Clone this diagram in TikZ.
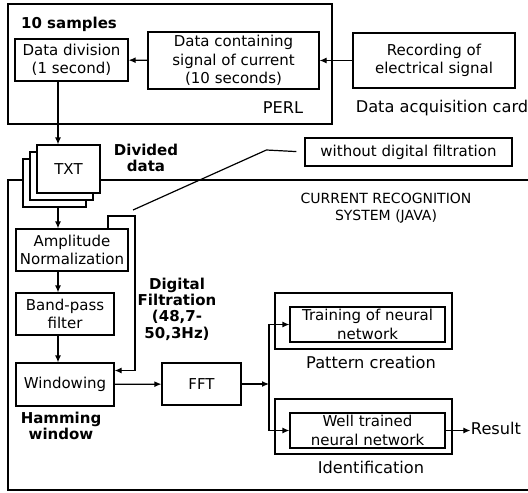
\documentclass[tikz,border=0pt]{standalone}
\usepackage{fontspec}
\setmainfont{DejaVu Sans}
\usetikzlibrary{arrows.meta}

\tikzset{
    box/.style={draw, fill=white, align=center, inner sep=0pt, font=\fontsize{7.5}{9.2}\selectfont},
    frame/.style={draw, inner sep=0pt},
    lbl/.style={align=center, inner sep=0pt, font=\fontsize{8.1}{9}\selectfont},
    blbl/.style={align=center, inner sep=0pt, font=\bfseries\fontsize{7.5}{8.2}\selectfont},
    arr/.style={-{Latex[length=3.5pt,width=3pt]}}
}

\begin{document}
\begin{tikzpicture}[x=0.5pt, y=-0.5pt, line width=0.6pt]
    \useasboundingbox (0,0) rectangle (528,492);
    \clip (0,0) rectangle (528,492);
    \fill[white] (0,0) rectangle (528,492);
    \coordinate (spine) at (58,0);
    % PERL part
    \node[frame, minimum width=162pt, minimum height=60pt] (perl) at (170,64) {};
    \node[blbl] (samples) at (69,24) {10 samples};
    \node[box, minimum width=56.5pt, minimum height=21pt] (div) at (71.5,60) {Data division\\(1 second)};
    \node[box, minimum width=85.5pt, minimum height=28.5pt] (cont) at (233.5,60.5) {Data containing\\signal of current\\(10 seconds)};
    \node[lbl] (perl-lbl) at (283,108) {PERL};
    % Data acquisition card
    \node[box, minimum width=81pt, minimum height=27.5pt] (rec) at (434,60.5) {Recording of\\electrical signal};
    \node[lbl] (card) at (442,108) {Data acquisition card};
    % Java part
    \node[frame, minimum width=262pt, minimum height=155pt] (java) at (270,335) {};
    \node[lbl, font=\fontsize{7}{8.5}\selectfont] (java-lbl) at (386,208) {CURRENT RECOGNITION\\SYSTEM (JAVA)};
    \foreach \i/\d in {3/14,2/7,1/0} {
        \node[box, minimum width=31.5pt, minimum height=24pt] (txt\i) at (68.5-\d,169+\d) {\ifnum\i=1 TXT\fi};
    }
    \node[blbl] (divided) at (146,158) {Divided\\data};
    \node[box, minimum width=103.5pt, minimum height=14pt] (wdf) at (408.5,152) {without digital filtration};
    \coordinate (byp) at (135,216);
    \coordinate (tip) at (133,210);
    \node[box, minimum width=56pt, minimum height=21pt] (amp) at (72,250) {Amplitude\\Normalization};
    \node[box, minimum width=49pt, minimum height=21pt] (band) at (65,314) {Band-pass\\filter};
    \node[box, minimum width=49pt, minimum height=21.5pt] (win) at (65,384.5) {Windowing};
    \node[blbl] (hamming) at (61,426) {Hamming\\window};
    \node[blbl] (digital) at (177,309) {Digital\\Filtration\\(48,7-\\50,3Hz)};
    \node[box, minimum width=39.5pt, minimum height=21pt] (fft) at (201.5,384) {FFT};
    \coordinate (br) at (269,384);
    % Neural network
    \node[frame, minimum width=88.5pt, minimum height=28pt] (pattern) at (363.5,321) {};
    \node[box, minimum width=77.5pt, minimum height=17.5pt] (train) at (367.5,324.5) {Training of neural\\network};
    \node[lbl] (pattern-lbl) at (371,362) {Pattern creation};
    \node[frame, minimum width=88.5pt, minimum height=27.5pt] (ident) at (363.5,426.5) {};
    \node[box, minimum width=77.5pt, minimum height=17.5pt] (well) at (367.5,430.5) {Well trained\\neural network};
    \node[lbl] (ident-lbl) at (371,467) {Identification};
    \node[lbl] (result) at (496,428) {Result};
    % Arrows
    \draw[arr] (rec) -- (cont);
    \draw[arr] (cont) -- (div);
    \draw[arr] (div.south -| spine) -- (txt1.north -| spine);
    \draw[arr] (txt3.south -| spine) -- (amp.north -| spine);
    \draw[arr] (amp.south -| spine) -- (band.north -| spine);
    \draw[arr] (band.south -| spine) -- (win.north -| spine);
    \draw[arr] ([xshift=18pt]amp.north) |- (byp) |- ([yshift=7pt]win.east);
    \draw[shorten <=4pt] (wdf.west) -- ++(-38,-2) -- (tip);
    \draw[arr] (win) -- (fft);
    \draw[arr] (fft) -- (br);
    \draw[arr] (br) |- (train.west);
    \draw[arr] (br) |- (well.west);
    \draw[arr] (well.east) -- (well.east -| result.west);
\end{tikzpicture}
\end{document}
